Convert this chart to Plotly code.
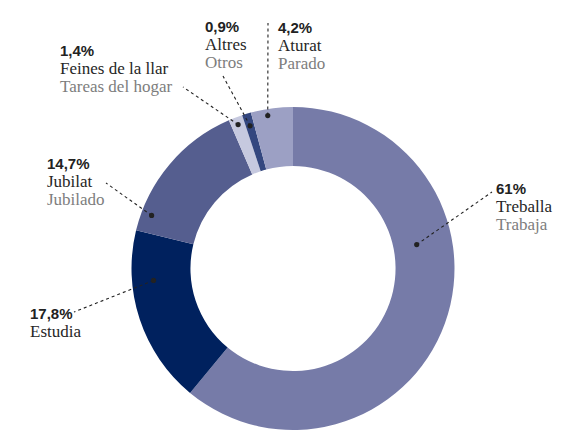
import math
import plotly.graph_objects as go

# data
categories_ca = ['Treballa', 'Estudia', 'Jubilat', 'Feines de la llar', 'Altres', 'Aturat']
categories_es = ['Trabaja', '', 'Jubilado', 'Tareas del hogar', 'Otros', 'Parado']
shares = [61, 17.8, 14.7, 1.4, 0.9, 4.2]
share_labels = ['61%', '17,8%', '14,7%', '1,4%', '0,9%', '4,2%']
colors = ['#767ba8', '#00215e', '#555e8f', '#c6c9df', '#34477f', '#9ca0c4']

W, H = 581, 430
CX, R = 293, 161.5          # pie centre x and outer radius (px)
HOLE = 0.635
CY = H - R

# callout layout: text left x, percent baseline y, line end (x, y), dot position inside slice
callouts = [
    dict(tx=495, ty=193, lx=492, ly=192, frac=0.36, rr=126),
    dict(tx=29, ty=318, lx=74, ly=312, frac=0.71, rr=140),
    dict(tx=46, ty=168, lx=106, ly=183, frac=0.13, rr=151),
    dict(tx=59, ty=55, lx=183, ly=87, frac=0.5, rr=154),
    dict(tx=204, ty=31, lx=223, ly=76, frac=0.5, rr=149),
    dict(tx=277, ty=32, lx=268, ly=23, frac=0.38, rr=155),
]

fig = go.Figure()
fig.add_trace(go.Pie(
    values=shares,
    labels=categories_ca,
    marker=dict(colors=colors, line=dict(width=0)),
    hole=HOLE,
    sort=False,
    direction='clockwise',
    rotation=0,
    textinfo='none',
    hoverinfo='label+value',
    showlegend=False,
    domain=dict(x=[(CX - R) / W, (CX + R) / W], y=[0, 2 * R / H]),
))

shapes = []
annotations = []
total = sum(shares)
start = 0.0
for i, c in enumerate(callouts):
    span = shares[i] / total * 360
    ang = math.radians(start + c['frac'] * span)
    start += span
    dx = CX + c['rr'] * math.sin(ang)
    dy = CY - c['rr'] * math.cos(ang)
    shapes.append(dict(type='line', xref='x', yref='y', x0=dx, y0=dy, x1=c['lx'], y1=c['ly'],
                       line=dict(color='#222222', width=1.1, dash='dot'), layer='above'))
    shapes.append(dict(type='circle', xref='x', yref='y', x0=dx - 2.6, x1=dx + 2.6,
                       y0=dy - 2.6, y1=dy + 2.6, fillcolor='#222222',
                       line=dict(width=0), layer='above'))
    lines = [
        (share_labels[i], dict(family='Liberation Sans', size=15, color='#222222'), True),
        (categories_ca[i], dict(family='Liberation Serif', size=17, color='#262626'), False),
        (categories_es[i], dict(family='Liberation Serif', size=17, color='#7d7d7d'), False),
    ]
    for k, (txt, font, bold) in enumerate(lines):
        if not txt:
            continue
        annotations.append(dict(
            x=c['tx'], y=c['ty'] + 18 * k - 5, xref='x', yref='y',
            text=f'<b>{txt}</b>' if bold else txt,
            showarrow=False, xanchor='left', yanchor='middle',
            font=font, borderpad=0,
        ))

fig.update_layout(
    width=W, height=H,
    margin=dict(l=0, r=0, t=0, b=0),
    paper_bgcolor='white',
    plot_bgcolor='rgba(0,0,0,0)',
    xaxis=dict(range=[0, W], visible=False, fixedrange=True),
    yaxis=dict(range=[H, 0], visible=False, fixedrange=True),
    shapes=shapes,
    annotations=annotations,
)

# drop the default page margin so the figure sits at the window's top-left corner
fig.write_html("out.html", config={'displayModeBar': False},
               post_script="document.body.style.margin='0';")
